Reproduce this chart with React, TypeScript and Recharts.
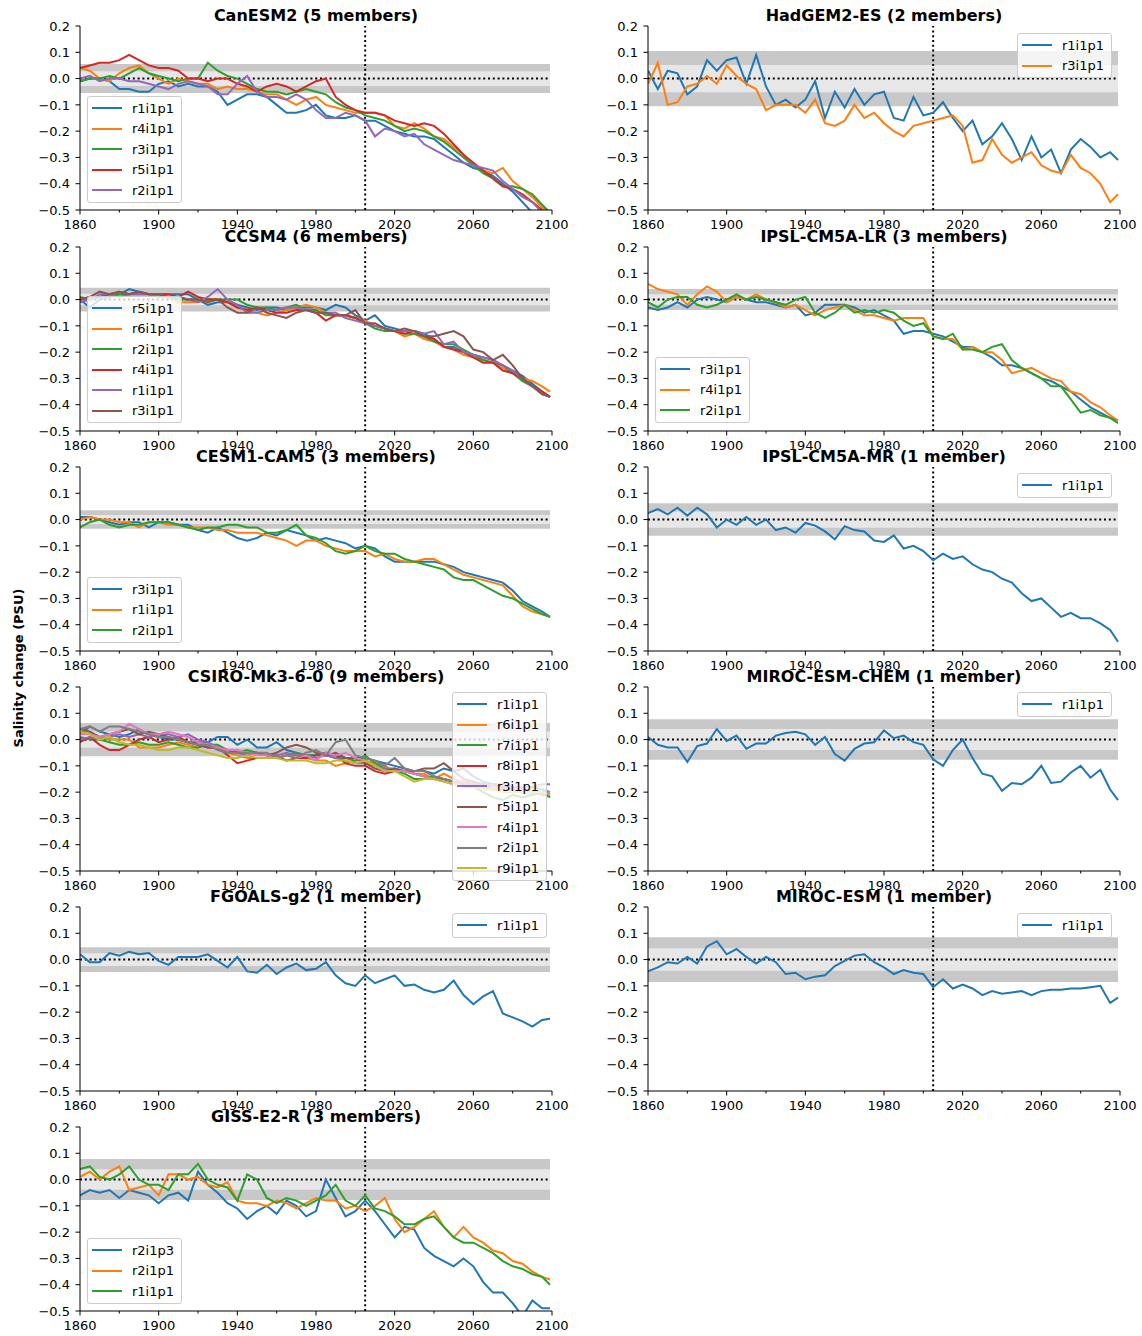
import React from "react";
import { LineChart, Line, XAxis, YAxis, ReferenceArea, ReferenceLine } from "recharts";

const FONT = "DejaVu Sans, sans-serif";
const TAB10 = ["#1f77b4", "#ff7f0e", "#2ca02c", "#d62728", "#9467bd", "#8c564b", "#e377c2", "#7f7f7f", "#bcbd22"];

const YEARS = [
  1860, 1865, 1870, 1875, 1880, 1885, 1890, 1895, 1900, 1905,
  1910, 1915, 1920, 1925, 1930, 1935, 1940, 1945, 1950, 1955,
  1960, 1965, 1970, 1975, 1980, 1985, 1990, 1995, 2000, 2005,
  2010, 2015, 2020, 2025, 2030, 2035, 2040, 2045, 2050, 2055,
  2060, 2065, 2070, 2075, 2080, 2085, 2090, 2095, 2099,
];
const X_TICKS = [1860, 1880, 1900, 1920, 1940, 1960, 1980, 2000, 2020, 2040, 2060, 2080, 2100];
const Y_TICKS = [-0.5, -0.4, -0.3, -0.2, -0.1, 0, 0.1, 0.2];
const SCENARIO_START = 2005;

// CanESM2
const canesm2_r1 = [
  -0.01, 0.0, 0.0, -0.01, -0.04, -0.04, -0.05, -0.05, -0.02, -0.01,
  -0.03, -0.02, -0.03, -0.03, -0.05, -0.1, -0.08, -0.06, -0.06, -0.07,
  -0.1, -0.13, -0.13, -0.12, -0.1, -0.14, -0.15, -0.15, -0.14, -0.16,
  -0.16, -0.18, -0.2, -0.21, -0.22, -0.22, -0.23, -0.26, -0.29, -0.32,
  -0.34, -0.35, -0.37, -0.4, -0.43, -0.47, -0.51, -0.54, -0.56,
];
const canesm2_r4 = [
  0.04, 0.03, 0.0, -0.01, 0.02, 0.04, 0.05, 0.02, 0.0, -0.02,
  0.0, -0.01, -0.02, -0.02, -0.04, -0.03, -0.04, -0.04, -0.05, -0.06,
  -0.06, -0.08, -0.1, -0.08, -0.07, -0.1, -0.11, -0.12, -0.13, -0.13,
  -0.13, -0.14, -0.18, -0.19, -0.17, -0.19, -0.22, -0.23, -0.26, -0.29,
  -0.33, -0.35, -0.36, -0.34, -0.39, -0.42, -0.45, -0.49, -0.51,
];
const canesm2_r3 = [
  -0.01, 0.0, 0.0, 0.01, 0.0, 0.02, 0.04, 0.02, 0.01, 0.0,
  -0.01, 0.0, 0.0, 0.06, 0.03, 0.01, 0.0, -0.02, -0.04, -0.05,
  -0.05, -0.06, -0.05, -0.04, -0.05, -0.06, -0.09, -0.11, -0.12, -0.14,
  -0.15, -0.16, -0.18, -0.2, -0.19, -0.2, -0.22, -0.24, -0.27, -0.3,
  -0.33, -0.36, -0.38, -0.41, -0.41, -0.42, -0.44, -0.48, -0.51,
];
const canesm2_r5 = [
  0.04, 0.05, 0.06, 0.06, 0.07, 0.09, 0.07, 0.05, 0.04, 0.04,
  0.03, 0.0, 0.0, -0.01, 0.0, 0.0, -0.02, -0.03, -0.05, -0.03,
  -0.02, -0.03, -0.05, -0.03, -0.01, 0.0, -0.07, -0.1, -0.12, -0.13,
  -0.13, -0.14, -0.16, -0.17, -0.18, -0.17, -0.18, -0.21, -0.25, -0.29,
  -0.32, -0.35, -0.38, -0.41, -0.42, -0.44, -0.47, -0.5, -0.52,
];
const canesm2_r2 = [
  0.0, 0.01, -0.01, 0.0, 0.0, -0.01, -0.01, -0.02, -0.03, -0.04,
  -0.02, -0.01, -0.02, -0.03, -0.06, -0.06, -0.02, 0.01, -0.05, -0.07,
  -0.07, -0.08, -0.06, -0.08, -0.12, -0.15, -0.15, -0.13, -0.14, -0.16,
  -0.22, -0.19, -0.2, -0.22, -0.21, -0.25, -0.27, -0.29, -0.31, -0.32,
  -0.33, -0.34, -0.35, -0.39, -0.42, -0.45, -0.47, -0.51, -0.54,
];

// HadGEM2-ES
const hadgem_r1 = [
  0.03, -0.04, 0.03, 0.02, -0.06, -0.03, 0.07, 0.03, 0.07, 0.08,
  -0.02, 0.09, -0.03, -0.1, -0.08, -0.11, -0.08, -0.01, -0.15, -0.05,
  -0.11, -0.04, -0.1, -0.06, -0.05, -0.15, -0.16, -0.07, -0.14, -0.13,
  -0.09, -0.15, -0.2, -0.16, -0.25, -0.22, -0.17, -0.23, -0.31, -0.22,
  -0.3, -0.27, -0.36, -0.27, -0.23, -0.26, -0.3, -0.28, -0.31,
];
const hadgem_r3 = [
  -0.02, 0.06, -0.1, -0.09, -0.03, -0.02, 0.01, -0.02, 0.05, 0.01,
  -0.02, -0.04, -0.12, -0.1, -0.1, -0.1, -0.13, -0.08, -0.17, -0.18,
  -0.16, -0.1, -0.15, -0.13, -0.17, -0.2, -0.22, -0.18, -0.17, -0.16,
  -0.15, -0.14, -0.18, -0.32, -0.31, -0.23, -0.29, -0.32, -0.3, -0.28,
  -0.33, -0.35, -0.36, -0.29, -0.34, -0.36, -0.4, -0.47, -0.44,
];

// CCSM4
const ccsm4_r5 = [
  0.0, -0.03, 0.0, 0.01, 0.02, 0.04, 0.03, 0.02, 0.02, 0.02,
  0.02, 0.02, 0.0, -0.02, -0.01, -0.01, -0.02, -0.03, -0.04, -0.03,
  -0.03, -0.04, -0.03, -0.03, -0.03, -0.04, -0.02, -0.03, -0.06, -0.08,
  -0.06, -0.1, -0.11, -0.12, -0.12, -0.13, -0.15, -0.18, -0.18, -0.2,
  -0.21, -0.22, -0.23, -0.25, -0.27, -0.29, -0.32, -0.35, -0.37,
];
const ccsm4_r6 = [
  0.0, 0.0, 0.01, 0.02, 0.02, 0.02, 0.02, 0.02, 0.01, 0.01,
  -0.01, -0.01, -0.01, 0.0, 0.0, -0.01, -0.03, -0.04, -0.05, -0.06,
  -0.05, -0.04, -0.03, -0.02, -0.03, -0.05, -0.06, -0.06, -0.07, -0.08,
  -0.1, -0.11, -0.12, -0.14, -0.13, -0.15, -0.16, -0.18, -0.19, -0.21,
  -0.22, -0.23, -0.24, -0.26, -0.28, -0.3, -0.31, -0.33, -0.35,
];
const ccsm4_r2 = [
  0.01, 0.0, 0.01, 0.02, 0.02, 0.02, 0.02, 0.02, 0.02, 0.01,
  0.0, 0.0, 0.0, 0.0, 0.0, 0.0, 0.0, -0.02, -0.03, -0.03,
  -0.04, -0.03, -0.02, -0.04, -0.04, -0.06, -0.06, -0.06, -0.07, -0.09,
  -0.11, -0.12, -0.12, -0.13, -0.13, -0.14, -0.16, -0.17, -0.17, -0.19,
  -0.21, -0.23, -0.24, -0.25, -0.28, -0.31, -0.33, -0.36, -0.37,
];
const ccsm4_r4 = [
  0.0, 0.01, 0.01, 0.02, 0.03, 0.02, 0.03, 0.02, 0.02, 0.02,
  0.01, 0.03, 0.01, 0.0, 0.0, -0.01, -0.03, -0.04, -0.03, -0.04,
  -0.05, -0.05, -0.04, -0.04, -0.05, -0.08, -0.06, -0.06, -0.07, -0.09,
  -0.1, -0.11, -0.12, -0.13, -0.12, -0.14, -0.15, -0.18, -0.19, -0.2,
  -0.22, -0.24, -0.24, -0.27, -0.28, -0.3, -0.33, -0.35, -0.37,
];
const ccsm4_r1 = [
  -0.01, 0.0, 0.02, 0.02, 0.01, 0.02, 0.02, 0.02, 0.02, 0.01,
  0.01, 0.0, -0.01, 0.01, 0.04, 0.0, -0.02, -0.05, -0.05, -0.04,
  -0.04, -0.03, -0.03, -0.04, -0.05, -0.05, -0.05, -0.07, -0.08, -0.09,
  -0.1, -0.11, -0.12, -0.12, -0.12, -0.13, -0.12, -0.17, -0.16, -0.2,
  -0.21, -0.22, -0.23, -0.25, -0.27, -0.3, -0.33, -0.36, -0.37,
];
const ccsm4_r3 = [
  0.0, 0.01, 0.03, 0.02, 0.03, 0.02, 0.03, 0.02, 0.02, 0.01,
  0.01, 0.0, 0.0, -0.01, 0.0, -0.03, -0.05, -0.05, -0.03, -0.05,
  -0.06, -0.07, -0.05, -0.04, -0.05, -0.05, -0.06, -0.06, -0.04, -0.09,
  -0.09, -0.11, -0.12, -0.11, -0.12, -0.14, -0.14, -0.13, -0.12, -0.14,
  -0.19, -0.2, -0.23, -0.21, -0.25, -0.3, -0.33, -0.36, -0.37,
];

// IPSL-CM5A-LR
const ipsllr_r3 = [
  -0.03, -0.04, -0.03, -0.01, -0.03, 0.0, 0.01, 0.0, -0.01, 0.01,
  0.0, -0.01, -0.01, -0.02, -0.03, -0.02, -0.06, -0.05, -0.02, -0.02,
  -0.02, -0.03, -0.05, -0.04, -0.06, -0.08, -0.13, -0.12, -0.12, -0.13,
  -0.14, -0.16, -0.18, -0.18, -0.2, -0.22, -0.25, -0.25, -0.26, -0.28,
  -0.3, -0.31, -0.33, -0.35, -0.38, -0.41, -0.43, -0.45, -0.46,
];
const ipsllr_r4 = [
  0.06, 0.04, 0.03, 0.02, -0.02, 0.02, 0.05, 0.03, -0.01, 0.01,
  0.0, 0.02, 0.0, -0.01, -0.03, -0.02, -0.04, -0.06, -0.04, -0.03,
  -0.02, -0.04, -0.06, -0.06, -0.07, -0.08, -0.07, -0.07, -0.07, -0.14,
  -0.15, -0.15, -0.19, -0.18, -0.2, -0.2, -0.23, -0.28, -0.27, -0.26,
  -0.28, -0.3, -0.31, -0.35, -0.36, -0.39, -0.41, -0.44, -0.46,
];
const ipsllr_r2 = [
  -0.01, -0.03, 0.0, 0.01, 0.01, -0.02, -0.03, -0.02, 0.0, 0.02,
  0.0, 0.01, 0.0, -0.01, -0.02, 0.0, 0.01, -0.05, -0.07, -0.05,
  -0.02, -0.05, -0.04, -0.05, -0.04, -0.05, -0.08, -0.1, -0.09, -0.14,
  -0.15, -0.13, -0.19, -0.19, -0.2, -0.18, -0.17, -0.23, -0.26, -0.28,
  -0.3, -0.33, -0.33, -0.38, -0.43, -0.42, -0.44, -0.45, -0.47,
];

// CESM1-CAM5
const cesm_r3 = [
  0.01, 0.01, 0.0, -0.01, -0.02, -0.01, -0.01, -0.03, -0.01, -0.01,
  -0.02, -0.02, -0.04, -0.05, -0.03, -0.05, -0.07, -0.08, -0.07, -0.05,
  -0.06, -0.04, -0.05, -0.06, -0.08, -0.07, -0.08, -0.09, -0.11, -0.1,
  -0.11, -0.14, -0.16, -0.16, -0.16, -0.16, -0.16, -0.17, -0.18, -0.2,
  -0.21, -0.22, -0.23, -0.24, -0.27, -0.31, -0.33, -0.35, -0.37,
];
const cesm_r1 = [
  0.0, 0.01, 0.0, 0.0, -0.01, -0.01, -0.03, -0.01, -0.01, -0.02,
  -0.02, -0.03, -0.03, -0.03, -0.04, -0.04, -0.05, -0.05, -0.05, -0.06,
  -0.07, -0.08, -0.1, -0.08, -0.08, -0.1, -0.11, -0.12, -0.12, -0.12,
  -0.14, -0.13, -0.15, -0.16, -0.16, -0.15, -0.15, -0.17, -0.19, -0.21,
  -0.22, -0.23, -0.24, -0.25, -0.29, -0.33, -0.35, -0.36, -0.37,
];
const cesm_r2 = [
  -0.03, -0.01, 0.0, -0.02, -0.03, -0.02, -0.02, -0.01, -0.01, -0.01,
  -0.02, -0.03, -0.04, -0.03, -0.03, -0.02, -0.02, -0.03, -0.03, -0.05,
  -0.05, -0.04, -0.02, -0.06, -0.07, -0.09, -0.12, -0.13, -0.12, -0.1,
  -0.12, -0.13, -0.13, -0.15, -0.16, -0.17, -0.18, -0.19, -0.22, -0.23,
  -0.23, -0.25, -0.27, -0.29, -0.3, -0.32, -0.34, -0.36, -0.37,
];

// IPSL-CM5A-MR
const ipslmr_r1 = [
  0.025, 0.04, 0.02, 0.045, 0.015, 0.045, 0.02, -0.03, 0.0, -0.02,
  0.01, -0.02, 0.0, -0.04, -0.03, -0.05, -0.013, -0.023, -0.045, -0.075,
  -0.025, -0.04, -0.045, -0.08, -0.085, -0.06, -0.11, -0.1, -0.12, -0.155,
  -0.13, -0.15, -0.14, -0.17, -0.19, -0.2, -0.225, -0.24, -0.28, -0.31,
  -0.3, -0.335, -0.37, -0.355, -0.375, -0.375, -0.395, -0.42, -0.465,
];

// CSIRO-Mk3-6-0
const csiro_r1 = [
  0.02, 0.05, 0.03, 0.02, 0.01, 0.02, 0.04, 0.02, 0.01, 0.0,
  0.0, -0.01, -0.01, -0.01, 0.01, 0.01, -0.02, 0.0, -0.03, -0.03,
  -0.01, -0.04, -0.05, -0.06, -0.06, -0.05, -0.06, -0.07, -0.07, -0.07,
  -0.08, -0.09, -0.1, -0.11, -0.12, -0.12, -0.13, -0.11, -0.12, -0.11,
  -0.14, -0.16, -0.17, -0.18, -0.18, -0.18, -0.18, -0.19, -0.2,
];
const csiro_r6 = [
  0.03, 0.02, 0.01, 0.0, 0.0, 0.0, -0.03, -0.03, -0.03, -0.02,
  -0.01, -0.02, -0.03, -0.02, -0.03, -0.05, -0.06, -0.07, -0.07, -0.07,
  -0.07, -0.06, -0.06, -0.07, -0.08, -0.08, -0.1, -0.09, -0.08, -0.08,
  -0.09, -0.1, -0.12, -0.12, -0.13, -0.13, -0.15, -0.13, -0.15, -0.16,
  -0.16, -0.17, -0.18, -0.18, -0.19, -0.19, -0.2, -0.2, -0.2,
];
const csiro_r7 = [
  0.01, 0.0, 0.0, -0.01, -0.02, -0.02, -0.01, -0.02, -0.02, -0.01,
  -0.02, -0.03, -0.03, -0.02, -0.02, -0.04, -0.05, -0.04, -0.05, -0.06,
  -0.07, -0.06, -0.05, -0.06, -0.06, -0.06, -0.07, -0.07, -0.08, -0.06,
  -0.09, -0.11, -0.12, -0.13, -0.15, -0.15, -0.14, -0.15, -0.16, -0.17,
  -0.18, -0.2, -0.22, -0.23, -0.21, -0.22, -0.21, -0.2, -0.22,
];
const csiro_r8 = [
  -0.01, 0.01, -0.02, -0.04, -0.04, -0.02, 0.0, 0.01, -0.01, 0.0,
  0.01, -0.01, -0.02, -0.03, -0.03, -0.06, -0.09, -0.08, -0.07, -0.07,
  -0.06, -0.08, -0.07, -0.07, -0.06, -0.05, -0.06, -0.09, -0.1, -0.1,
  -0.12, -0.13, -0.12, -0.12, -0.13, -0.14, -0.15, -0.15, -0.16, -0.17,
  -0.17, -0.18, -0.19, -0.19, -0.19, -0.2, -0.2, -0.21, -0.21,
];
const csiro_r3 = [
  0.0, 0.01, 0.0, 0.01, 0.02, 0.01, 0.02, 0.01, 0.02, 0.02,
  0.01, 0.02, 0.0, -0.01, -0.03, -0.04, -0.05, -0.06, -0.05, -0.06,
  -0.06, -0.05, -0.06, -0.06, -0.07, -0.06, -0.07, -0.08, -0.09, -0.09,
  -0.1, -0.11, -0.11, -0.12, -0.13, -0.14, -0.15, -0.15, -0.16, -0.16,
  -0.17, -0.17, -0.17, -0.17, -0.18, -0.18, -0.18, -0.17, -0.17,
];
const csiro_r5 = [
  0.04, 0.03, 0.01, 0.02, 0.03, 0.04, 0.02, 0.03, 0.02, 0.01,
  0.0, -0.01, -0.02, -0.03, -0.03, -0.04, -0.05, -0.05, -0.05, -0.06,
  -0.05, -0.03, -0.02, -0.03, -0.05, -0.06, -0.05, -0.07, -0.07, -0.09,
  -0.11, -0.12, -0.11, -0.12, -0.12, -0.11, -0.11, -0.09, -0.12, -0.15,
  -0.16, -0.17, -0.18, -0.18, -0.19, -0.19, -0.2, -0.2, -0.2,
];
const csiro_r4 = [
  0.02, 0.02, 0.01, 0.02, 0.03, 0.06, 0.04, 0.02, 0.02, 0.03,
  0.02, 0.01, -0.01, -0.02, -0.03, -0.04, -0.04, -0.05, -0.06, -0.06,
  -0.07, -0.06, -0.07, -0.06, -0.08, -0.05, -0.06, -0.05, -0.07, -0.08,
  -0.1, -0.12, -0.12, -0.12, -0.13, -0.14, -0.15, -0.16, -0.17, -0.16,
  -0.18, -0.19, -0.18, -0.19, -0.19, -0.19, -0.2, -0.2, -0.2,
];
const csiro_r2 = [
  0.04, 0.05, 0.03, 0.05, 0.05, 0.04, 0.03, 0.02, 0.01, 0.01,
  0.0, -0.01, -0.02, -0.02, -0.04, -0.05, -0.05, -0.05, -0.05, -0.05,
  -0.07, -0.06, -0.07, -0.05, -0.04, -0.06, -0.01, 0.0, -0.06, -0.07,
  -0.08, -0.1, -0.07, -0.11, -0.12, -0.12, -0.14, -0.15, -0.16, -0.17,
  -0.17, -0.18, -0.19, -0.19, -0.19, -0.2, -0.2, -0.2, -0.21,
];
const csiro_r9 = [
  0.03, 0.02, 0.0, 0.01, -0.01, -0.02, -0.02, -0.03, -0.04, -0.04,
  -0.03, -0.03, -0.04, -0.05, -0.06, -0.07, -0.07, -0.06, -0.07, -0.07,
  -0.07, -0.08, -0.08, -0.08, -0.09, -0.09, -0.08, -0.08, -0.09, -0.08,
  -0.1, -0.12, -0.12, -0.14, -0.16, -0.15, -0.15, -0.16, -0.17, -0.18,
  -0.18, -0.19, -0.19, -0.2, -0.2, -0.2, -0.2, -0.2, -0.21,
];

// MIROC-ESM-CHEM
const mirocchem_r1 = [
  0.01, -0.02, -0.03, -0.03, -0.085, -0.025, -0.015, 0.04, -0.005, 0.015,
  -0.035, -0.015, -0.015, 0.015, 0.025, 0.03, 0.02, -0.02, 0.01, -0.055,
  -0.08, -0.035, -0.015, -0.01, 0.035, 0.005, 0.015, -0.01, -0.02, -0.075,
  -0.1, -0.04, 0.0, -0.07, -0.13, -0.14, -0.195, -0.165, -0.17, -0.145,
  -0.1, -0.165, -0.16, -0.125, -0.1, -0.145, -0.115, -0.19, -0.23,
];

// FGOALS-g2
const fgoals_r1 = [
  0.02, -0.01, -0.01, 0.025, 0.015, 0.03, 0.02, 0.025, -0.005, -0.02,
  0.01, 0.01, 0.01, 0.02, -0.005, -0.03, 0.01, -0.045, -0.05, -0.02,
  -0.055, -0.03, -0.015, -0.04, -0.035, -0.01, -0.06, -0.09, -0.1, -0.06,
  -0.09, -0.075, -0.06, -0.1, -0.095, -0.115, -0.125, -0.115, -0.08, -0.135,
  -0.17, -0.14, -0.12, -0.205, -0.22, -0.235, -0.255, -0.23, -0.225,
];

// MIROC-ESM
const miroc_r1 = [
  -0.045, -0.03, -0.01, -0.015, 0.01, -0.015, 0.05, 0.07, 0.02, 0.04,
  0.01, -0.015, 0.01, -0.01, -0.055, -0.05, -0.075, -0.065, -0.06, -0.025,
  -0.005, 0.015, 0.02, -0.01, -0.03, -0.055, -0.04, -0.05, -0.055, -0.105,
  -0.075, -0.11, -0.095, -0.11, -0.135, -0.12, -0.13, -0.125, -0.12, -0.135,
  -0.12, -0.115, -0.115, -0.11, -0.11, -0.105, -0.1, -0.165, -0.145,
];

// GISS-E2-R
const giss_r2i1p3 = [
  -0.06, -0.04, -0.05, -0.04, -0.07, -0.04, -0.05, -0.06, -0.09, -0.06,
  -0.05, -0.08, 0.03, -0.02, -0.05, -0.09, -0.11, -0.15, -0.12, -0.1,
  -0.13, -0.08, -0.1, -0.14, -0.12, 0.0, -0.07, -0.14, -0.12, -0.08,
  -0.12, -0.17, -0.22, -0.18, -0.19, -0.26, -0.29, -0.31, -0.33, -0.3,
  -0.33, -0.39, -0.43, -0.43, -0.47, -0.52, -0.46, -0.49, -0.49,
];
const giss_r2i1p1 = [
  0.01, 0.03, 0.0, 0.03, 0.05, -0.04, -0.03, -0.02, -0.06, 0.02,
  0.02, 0.0, 0.01, -0.02, -0.03, -0.01, -0.08, -0.09, -0.09, -0.1,
  -0.08, -0.09, -0.11, -0.09, -0.07, -0.08, -0.08, -0.11, -0.1, -0.12,
  -0.1, -0.07, -0.15, -0.2, -0.18, -0.15, -0.12, -0.18, -0.22, -0.18,
  -0.22, -0.24, -0.27, -0.28, -0.31, -0.32, -0.35, -0.37, -0.38,
];
const giss_r1i1p1 = [
  0.04, 0.05, 0.01, 0.0, 0.02, 0.05, 0.0, -0.02, -0.02, -0.04,
  0.02, 0.02, 0.06, 0.0, -0.02, -0.03, -0.08, 0.02, 0.0, -0.07,
  -0.09, -0.07, -0.08, -0.1, -0.08, -0.06, -0.02, -0.08, -0.1, -0.06,
  -0.11, -0.12, -0.14, -0.17, -0.17, -0.15, -0.14, -0.18, -0.22, -0.24,
  -0.24, -0.26, -0.28, -0.31, -0.33, -0.34, -0.36, -0.37, -0.4,
];

// control-run variability bands: [2 sigma, 1 sigma]
const PANELS = [
  { title: "CanESM2 (5 members)", col: 0, row: 0, band: [0.055, 0.028], legend: [87, 96],
    members: [["r1i1p1", canesm2_r1], ["r4i1p1", canesm2_r4], ["r3i1p1", canesm2_r3], ["r5i1p1", canesm2_r5], ["r2i1p1", canesm2_r2]] },
  { title: "HadGEM2-ES (2 members)", col: 1, row: 0, band: [0.105, 0.052], legend: [1017, 33],
    members: [["r1i1p1", hadgem_r1], ["r3i1p1", hadgem_r3]] },
  { title: "CCSM4 (6 members)", col: 0, row: 1, band: [0.045, 0.022], legend: [87, 296],
    members: [["r5i1p1", ccsm4_r5], ["r6i1p1", ccsm4_r6], ["r2i1p1", ccsm4_r2], ["r4i1p1", ccsm4_r4], ["r1i1p1", ccsm4_r1], ["r3i1p1", ccsm4_r3]] },
  { title: "IPSL-CM5A-LR (3 members)", col: 1, row: 1, band: [0.04, 0.02], legend: [655, 357],
    members: [["r3i1p1", ipsllr_r3], ["r4i1p1", ipsllr_r4], ["r2i1p1", ipsllr_r2]] },
  { title: "CESM1-CAM5 (3 members)", col: 0, row: 2, band: [0.035, 0.017], legend: [87, 577],
    members: [["r3i1p1", cesm_r3], ["r1i1p1", cesm_r1], ["r2i1p1", cesm_r2]] },
  { title: "IPSL-CM5A-MR (1 member)", col: 1, row: 2, band: [0.062, 0.031], legend: [1017, 473],
    members: [["r1i1p1", ipslmr_r1]] },
  { title: "CSIRO-Mk3-6-0 (9 members)", col: 0, row: 3, band: [0.063, 0.031], legend: [452, 692],
    members: [["r1i1p1", csiro_r1], ["r6i1p1", csiro_r6], ["r7i1p1", csiro_r7], ["r8i1p1", csiro_r8], ["r3i1p1", csiro_r3],
      ["r5i1p1", csiro_r5], ["r4i1p1", csiro_r4], ["r2i1p1", csiro_r2], ["r9i1p1", csiro_r9]] },
  { title: "MIROC-ESM-CHEM (1 member)", col: 1, row: 3, band: [0.077, 0.04], legend: [1017, 692],
    members: [["r1i1p1", mirocchem_r1]] },
  { title: "FGOALS-g2 (1 member)", col: 0, row: 4, band: [0.047, 0.024], legend: [452, 913],
    members: [["r1i1p1", fgoals_r1]] },
  { title: "MIROC-ESM (1 member)", col: 1, row: 4, band: [0.085, 0.043], legend: [1017, 913],
    members: [["r1i1p1", miroc_r1]] },
  { title: "GISS-E2-R (3 members)", col: 0, row: 5, band: [0.078, 0.039], legend: [87, 1238],
    members: [["r2i1p3", giss_r2i1p3], ["r2i1p1", giss_r2i1p1], ["r1i1p1", giss_r1i1p1]] },
];

const COL_X = [80, 648];
const ROW_Y = [26, 247, 467, 687, 907, 1127];
const PLOT_W = 472;
const PLOT_H = 184;
const PAD_L = 45;
const PAD_T = 20;
const PAD_R = 25;
const PAD_B = 25;

function fmtY(v: number) {
  if (Math.abs(v) < 1e-9) return "0.0";
  return (v < 0 ? "\u2212" : "") + Math.abs(v).toFixed(1);
}

function XTick(props: any) {
  const { x, y, payload } = props;
  const major = (payload.value - 1860) % 40 === 0;
  return (
    <g>
      <line x1={x} x2={x} y1={y} y2={y + (major ? 4.5 : 2.5)} stroke="#000" strokeWidth={1} />
      {major && (
        <text x={x} y={y + 9} dy="0.75em" textAnchor="middle" fontSize={13} fontFamily={FONT} fill="#000">
          {payload.value}
        </text>
      )}
    </g>
  );
}

function YTick(props: any) {
  const { x, y, payload } = props;
  return (
    <g>
      <line x1={x - 4.5} x2={x} y1={y} y2={y} stroke="#000" strokeWidth={1} />
      <text x={x - 10} y={y} dy="0.36em" textAnchor="end" fontSize={13} fontFamily={FONT} fill="#000">
        {fmtY(payload.value)}
      </text>
    </g>
  );
}

function LegendBox({ items, left, top }: { items: { name: string; color: string }[]; left: number; top: number }) {
  return (
    <div
      style={{
        position: "absolute", left, top,
        background: "rgba(255,255,255,0.8)", border: "1px solid #cccccc", borderRadius: 3,
        padding: "1px 7px 1px 4px", fontFamily: FONT, fontSize: 13, color: "#000",
      }}
    >
      {items.map((it) => (
        <div key={it.name} style={{ display: "flex", alignItems: "center", height: 20.5, whiteSpace: "nowrap" }}>
          <span style={{ display: "inline-block", width: 30, borderTop: `2px solid ${it.color}`, marginRight: 10 }} />
          <span>{it.name}</span>
        </div>
      ))}
    </div>
  );
}

function Panel({ panel }: { panel: (typeof PANELS)[number] }) {
  const plotLeft = COL_X[panel.col];
  const plotTop = ROW_Y[panel.row];
  const keys = panel.members.map((_, k) => `m${k}`);
  const data = YEARS.map((year, i) => {
    const row: Record<string, number> = { year };
    panel.members.forEach((m, k) => {
      row[keys[k]] = (m[1] as number[])[i];
    });
    return row;
  });
  const [outer, inner] = panel.band;
  const items = panel.members.map((m, k) => ({ name: m[0] as string, color: TAB10[k] }));

  return (
    <>
      <div
        style={{
          position: "absolute", left: plotLeft, top: plotTop - 19, width: PLOT_W,
          textAlign: "center", fontFamily: FONT, fontWeight: "bold", fontSize: 16, lineHeight: "18px",
        }}
      >
        {panel.title}
      </div>
      <div style={{ position: "absolute", left: plotLeft - PAD_L, top: plotTop - PAD_T }}>
        <LineChart
          width={PAD_L + PLOT_W + PAD_R}
          height={PAD_T + PLOT_H + PAD_B}
          data={data}
          margin={{ top: PAD_T, right: PAD_R, bottom: 0, left: 0 }}
        >
          <XAxis
            dataKey="year" type="number" domain={[1860, 2100]} ticks={X_TICKS} interval={0}
            tick={XTick} tickLine={false} tickSize={0} tickMargin={0} height={PAD_B}
            axisLine={{ stroke: "#000" }} allowDataOverflow
          />
          <XAxis
            xAxisId="top" orientation="top" dataKey="year" type="number" domain={[1860, 2100]}
            tick={false} tickLine={false} height={0} axisLine={{ stroke: "#000" }}
          />
          <YAxis
            type="number" domain={[-0.5, 0.2]} ticks={Y_TICKS} interval={0}
            tick={YTick} tickLine={false} tickSize={0} tickMargin={0} width={PAD_L}
            axisLine={{ stroke: "#000" }} allowDataOverflow
          />
          <YAxis
            yAxisId="right" orientation="right" type="number" domain={[-0.5, 0.2]}
            tick={false} tickLine={false} width={0} axisLine={{ stroke: "#000" }}
          />
          <ReferenceArea x1={1860} x2={2099} y1={-outer} y2={outer} fill="#c8c8c8" fillOpacity={1} stroke="none" />
          <ReferenceArea x1={1860} x2={2099} y1={-inner} y2={inner} fill="#e7e7e7" fillOpacity={1} stroke="none" />
          <ReferenceLine
            segment={[{ x: 1860, y: 0 }, { x: 2099, y: 0 }]}
            stroke="#000" strokeWidth={2} strokeDasharray="2 2.8"
          />
          <ReferenceLine x={SCENARIO_START} stroke="#000" strokeWidth={2} strokeDasharray="2 2.8" />
          {keys.map((k, idx) => (
            <Line
              key={k} dataKey={k} type="linear" stroke={TAB10[idx]} strokeWidth={2}
              dot={false} isAnimationActive={false}
            />
          ))}
        </LineChart>
      </div>
      <LegendBox items={items} left={panel.legend[0]} top={panel.legend[1]} />
    </>
  );
}

export default function App() {
  return (
    <div style={{ position: "absolute", left: 0, top: 0, width: 1142, height: 1336, background: "#fff" }}>
      {PANELS.map((p) => (
        <Panel key={p.title} panel={p} />
      ))}
      <div
        style={{
          position: "absolute", left: 18, top: 668, transform: "translate(-50%, -50%) rotate(-90deg)",
          fontFamily: FONT, fontWeight: "bold", fontSize: 13, whiteSpace: "nowrap",
        }}
      >
        Salinity change (PSU)
      </div>
    </div>
  );
}
